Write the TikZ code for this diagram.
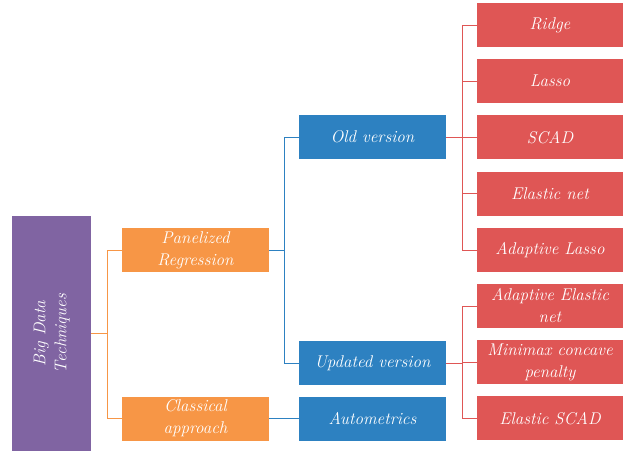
\documentclass[tikz,border=0pt]{standalone}
\usepackage{tikz}
\usetikzlibrary{calc}

\definecolor{bdpurple}{HTML}{8064A2}
\definecolor{bdorange}{HTML}{F79646}
\definecolor{bdblue}{HTML}{2D81C1}
\definecolor{bdred}{HTML}{DF5655}

\tikzset{
 box/.style={minimum width=147pt, minimum height=44pt, inner sep=1pt, text=white,
   align=center, font=\fontsize{17}{22}\selectfont\itshape},
 orangebox/.style={box, fill=bdorange},
 bluebox/.style={box, fill=bdblue},
 redbox/.style={box, fill=bdred, minimum width=146pt},
}

\begin{document}
\begin{tikzpicture} [x=1pt, y=-1pt]
\useasboundingbox (0,0) rectangle (633,451);
\node[box, fill=bdpurple, minimum width=79pt, minimum height=235pt] (big) at (51.5,333.5)
 {\rotatebox{90}{\begin{tabular}{@{}c@{}}Big Data\\[-1pt]Techniques\end{tabular}}};
\node[orangebox] (pan) at (195.5,250) {Panelized\\Regression};
\node[orangebox] (cla) at (195.5,418.5) {Classical\\approach};
\node[bluebox] (old) at (372.5,137) {Old version};
\node[bluebox] (upd) at (372.5,363) {Updated version};
\node[bluebox] (aut) at (372.5,418.5) {Autometrics};
\foreach \t [count=\i] in {Ridge, Lasso, SCAD, Elastic net, Adaptive Lasso,
  Adaptive Elastic\\net, Minimax concave\\penalty, Elastic SCAD} {
 \node[redbox] (r\i) at (550,{25+56.2*(\i-1)}) {\t};
}
% connectors
\foreach \n in {pan, cla} \draw[bdorange] (big.east) -- ++(16,0) |- (\n.west);
\foreach \n in {old, upd} \draw[bdblue] (pan.east) -- ++(15,0) |- (\n.west);
\draw[bdblue] (cla.east) -- (aut.west);
\foreach \i in {1,...,5} \draw[bdred] (old.east) -- ++(16,0) |- (r\i.west);
\foreach \i in {6,7,8} \draw[bdred] (upd.east) -- ++(16,0) |- (r\i.west);
\end{tikzpicture}
\end{document}
